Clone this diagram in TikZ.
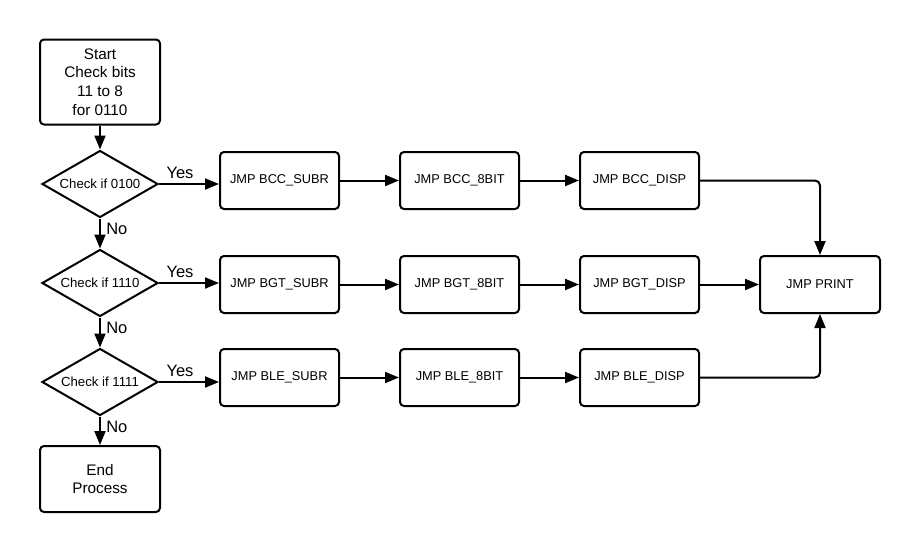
\documentclass[tikz,border=0pt]{standalone}
\usepackage{fontspec}
\setmainfont{Liberation Sans}
\usetikzlibrary{shapes.geometric,arrows.meta}
\begin{document}
\begin{tikzpicture}[x=1pt,y=-1pt,
  line width=2pt,
  flowbox/.style={draw,rounded corners=4pt,minimum width=119pt,minimum height=57pt,inner sep=0pt,
    font=\fontsize{12.8}{14}\selectfont,align=center},
  termbox/.style={draw,rounded corners=4pt,minimum width=120pt,inner sep=0pt,
    font=\fontsize{15.3}{18.7}\selectfont,align=center},
  decide/.style={draw,diamond,aspect=1.73,minimum width=116pt,minimum height=67pt,inner sep=0pt,
    font=\fontsize{13.2}{15}\selectfont},
  flow/.style={-{Triangle[length=14pt,width=11pt]},rounded corners=5pt},
  answer/.style={font=\fontsize{16.5}{18}\selectfont}]
\useasboundingbox (0,0) rectangle (920,552);

% left column
\node[termbox,minimum height=85pt] (start) at (100,82) {Start\\Check bits\\11 to 8\\for 0110};
\node[decide] (q1) at (100,184) {Check if 0100};
\node[decide] (q2) at (100,283) {Check if 1110};
\node[decide] (q3) at (100,382) {Check if 1111};
\node[termbox,minimum height=66pt] (stop) at (100,479) {End\\Process};

% BCC row
\node[flowbox] (bccsub) at (279.5,180.5) {JMP BCC\_SUBR};
\node[flowbox] (bcc8)   at (459.5,180.5) {JMP BCC\_8BIT};
\node[flowbox] (bccdsp) at (639.5,180.5) {JMP BCC\_DISP};
% BGT row
\node[flowbox] (bgtsub) at (279.5,284.5) {JMP BGT\_SUBR};
\node[flowbox] (bgt8)   at (459.5,284.5) {JMP BGT\_8BIT};
\node[flowbox] (bgtdsp) at (639.5,284.5) {JMP BGT\_DISP};
% BLE row
\node[flowbox] (blesub) at (279.5,377.5) {JMP BLE\_SUBR};
\node[flowbox] (ble8)   at (459.5,377.5) {JMP BLE\_8BIT};
\node[flowbox] (bledsp) at (639.5,377.5) {JMP BLE\_DISP};

\node[flowbox,minimum width=120pt] (print) at (820,284.5) {JMP PRINT};

% vertical chain
\draw[flow] (start) -- (q1);
\draw[flow] (q1) -- node[answer,right,pos=0.35,xshift=2pt] {No} (q2);
\draw[flow] (q2) -- node[answer,right,pos=0.35,xshift=2pt] {No} (q3);
\draw[flow] (q3) -- node[answer,right,pos=0.35,xshift=2pt] {No} (stop);

% yes branches
\draw[flow] (q1.east) -- node[answer,pos=0.35,above,yshift=1pt] {Yes} (q1.east -| bccsub.west);
\draw[flow] (q2.east) -- node[answer,pos=0.35,above,yshift=1pt] {Yes} (q2.east -| bgtsub.west);
\draw[flow] (q3.east) -- node[answer,pos=0.35,above,yshift=1pt] {Yes} (q3.east -| blesub.west);

% rows
\draw[flow] (bccsub) -- (bcc8);
\draw[flow] (bcc8) -- (bccdsp);
\draw[flow] (bgtsub) -- (bgt8);
\draw[flow] (bgt8) -- (bgtdsp);
\draw[flow] (blesub) -- (ble8);
\draw[flow] (ble8) -- (bledsp);

% merge into print
\draw[flow] (bccdsp.east) -| (print.north);
\draw[flow] (bgtdsp) -- (print);
\draw[flow] (bledsp.east) -| (print.south);
\end{tikzpicture}
\end{document}
